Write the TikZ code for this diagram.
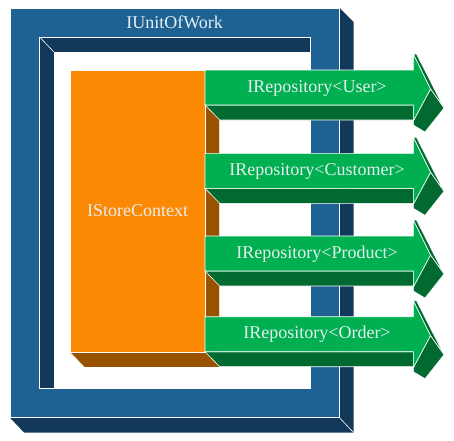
\documentclass[tikz,border=0pt]{standalone}
\usepackage{fontspec}
\setmainfont{Liberation Serif}
\usepackage{xcolor}
\definecolor{uowblue}{HTML}{1E6294}
\definecolor{uowdark}{HTML}{12395A}
\definecolor{ctxorange}{HTML}{FB8904}
\definecolor{ctxdark}{HTML}{985200}
\definecolor{repogreen}{HTML}{00B050}
\definecolor{repodark}{HTML}{006A30}
\definecolor{textgray}{HTML}{E6EEF0}

\begin{document}
\begin{tikzpicture}[x=1pt, y=-1pt,
    face/.style={draw=white, line width=0.6pt, line join=miter},
    boxtext/.style={text=textgray, font=\fontsize{18}{20}\selectfont, inner sep=0pt, anchor=base}]

    \useasboundingbox (0,0) rectangle (454,440);

    % IUnitOfWork: outer frame with its depth
    \fill[uowdark] (339.5,8) -- (353.5,22) -- (353.5,432.5) -- (24,432.5) -- (10,417.7) -- (339.5,417.7) -- cycle;
    \draw[white, line width=0.6pt] (339.5,417.7) -- (353.5,432.5);
    \path[face, fill=uowblue, even odd rule] (10,8) rectangle (339.5,417.7) (39.5,37) rectangle (310,388.3);
    \path[face, fill=uowdark] (39.5,37) -- (310,37) -- (310,52) -- (54,52) -- (54,388.3) -- (39.5,388.3) -- cycle;
    \draw[white, line width=0.6pt] (39.5,37) -- (54,52);
    \node[boxtext] (uow) at (174.7,28.3) {IUnitOfWork};

    % IStoreContext block
    \path[face, fill=ctxdark] (205,70) -- (219.7,84.7) -- (219.7,367.5) -- (84.7,367.5) -- (70,352.5) -- (205,352.5) -- cycle;
    \path[face, fill=ctxorange] (70,70) rectangle (205,352.5);
    \node[boxtext] (ctx) at (137.5,216) {IStoreContext};

    % The four repositories
    \foreach \ty/\ent [count=\i] in {70/User, 153.3/Customer, 236/Product, 316.7/Order} {
        \path[face, fill=repodark] (205,\ty+35) -- (413.3,\ty+35) -- (413.3,\ty+50) -- (219.7,\ty+50) -- cycle;
        \path[face, fill=repodark] (413.3,\ty-16) -- (416.5,\ty-16) -- (444,\ty+38) -- (430.5,\ty+19) -- cycle;
        \path[face, fill=repodark] (430.5,\ty+19) -- (444,\ty+38) -- (425,\ty+62) -- (413.3,\ty+55) -- (413.3,\ty+51) -- cycle;
        \path[face, fill=repogreen] (205,\ty) -- (413.3,\ty) -- (413.3,\ty-16) -- (430.5,\ty+19)
            -- (413.3,\ty+51) -- (413.3,\ty+35) -- (205,\ty+35) -- cycle;
        \node[boxtext] (repo\i) at (317,\ty+22) {IRepository<\ent>};
    }

\end{tikzpicture}
\end{document}
